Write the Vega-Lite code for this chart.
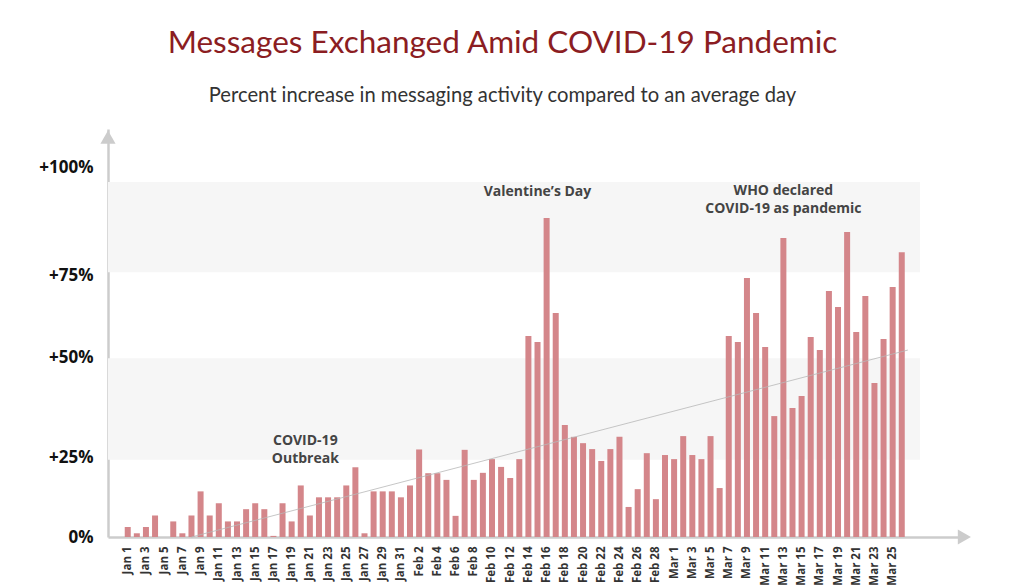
{
  "$schema": "https://vega.github.io/schema/vega-lite/v6.json",
  "width": 857,
  "height": 408,
  "autosize": {"type": "none"},
  "padding": {"left": 108, "top": 129, "right": 59, "bottom": 51},
  "background": "white",
  "config": {"view": {"stroke": null}, "font": "Open Sans"},
  "title": {
    "text": "Messages Exchanged Amid COVID-19 Pandemic",
    "subtitle": "Percent increase in messaging activity compared to an average day",
    "font": "Lato", "fontSize": 31.5, "fontWeight": "normal", "color": "#8b1d22",
    "subtitleFont": "Lato", "subtitleFontSize": 20.2, "subtitleColor": "#333333",
    "subtitlePadding": 26, "anchor": "middle", "dx": -34, "offset": 23
  },
  "datasets": {
    "bands": [
      {"d": "2019-12-29T20:00:00Z", "d2": "2020-03-28T00:00:00Z", "v": 71.4, "v2": 95.7},
      {"d": "2019-12-29T20:00:00Z", "d2": "2020-03-28T00:00:00Z", "v": 20.8, "v2": 48.2}
    ],
    "arrows": [
      {"d": "2019-12-29T20:00:00Z", "v": 107.8, "shape": "triangle-up"},
      {"d": "2020-04-01T21:00:00Z", "v": 0, "shape": "triangle-right"}
    ],
    "bars": [
      {"d": "2020-01-01", "v": 2.7}, {"d": "2020-01-02", "v": 1.0}, {"d": "2020-01-03", "v": 2.7}, {"d": "2020-01-04", "v": 5.8},
      {"d": "2020-01-05", "v": 0}, {"d": "2020-01-06", "v": 4.2}, {"d": "2020-01-07", "v": 1.0}, {"d": "2020-01-08", "v": 5.8},
      {"d": "2020-01-09", "v": 12.3}, {"d": "2020-01-10", "v": 5.8}, {"d": "2020-01-11", "v": 9.1}, {"d": "2020-01-12", "v": 4.2},
      {"d": "2020-01-13", "v": 4.2}, {"d": "2020-01-14", "v": 7.5}, {"d": "2020-01-15", "v": 9.1}, {"d": "2020-01-16", "v": 7.5},
      {"d": "2020-01-17", "v": 0.3}, {"d": "2020-01-18", "v": 9.1}, {"d": "2020-01-19", "v": 4.2}, {"d": "2020-01-20", "v": 13.9},
      {"d": "2020-01-21", "v": 5.8}, {"d": "2020-01-22", "v": 10.7}, {"d": "2020-01-23", "v": 10.7}, {"d": "2020-01-24", "v": 10.7},
      {"d": "2020-01-25", "v": 13.9}, {"d": "2020-01-26", "v": 18.8}, {"d": "2020-01-27", "v": 1.0}, {"d": "2020-01-28", "v": 12.3},
      {"d": "2020-01-29", "v": 12.3}, {"d": "2020-01-30", "v": 12.3}, {"d": "2020-01-31", "v": 10.7},
      {"d": "2020-02-01", "v": 13.9}, {"d": "2020-02-02", "v": 23.6}, {"d": "2020-02-03", "v": 17.2}, {"d": "2020-02-04", "v": 17.2},
      {"d": "2020-02-05", "v": 15.4}, {"d": "2020-02-06", "v": 5.7}, {"d": "2020-02-07", "v": 23.5}, {"d": "2020-02-08", "v": 15.4},
      {"d": "2020-02-09", "v": 17.3}, {"d": "2020-02-10", "v": 21.0}, {"d": "2020-02-11", "v": 18.9}, {"d": "2020-02-12", "v": 15.9},
      {"d": "2020-02-13", "v": 21.0}, {"d": "2020-02-14", "v": 54.2}, {"d": "2020-02-15", "v": 52.6}, {"d": "2020-02-16", "v": 86.0},
      {"d": "2020-02-17", "v": 60.4}, {"d": "2020-02-18", "v": 30.2}, {"d": "2020-02-19", "v": 27.0}, {"d": "2020-02-20", "v": 25.3},
      {"d": "2020-02-21", "v": 23.7}, {"d": "2020-02-22", "v": 20.5}, {"d": "2020-02-23", "v": 23.7}, {"d": "2020-02-24", "v": 27.0},
      {"d": "2020-02-25", "v": 8.1}, {"d": "2020-02-26", "v": 12.9}, {"d": "2020-02-27", "v": 22.6}, {"d": "2020-02-28", "v": 10.2},
      {"d": "2020-02-29", "v": 22.1},
      {"d": "2020-03-01", "v": 21.0}, {"d": "2020-03-02", "v": 27.2}, {"d": "2020-03-03", "v": 22.1}, {"d": "2020-03-04", "v": 21.0},
      {"d": "2020-03-05", "v": 27.2}, {"d": "2020-03-06", "v": 13.2}, {"d": "2020-03-07", "v": 54.2}, {"d": "2020-03-08", "v": 52.6},
      {"d": "2020-03-09", "v": 69.8}, {"d": "2020-03-10", "v": 60.4}, {"d": "2020-03-11", "v": 51.2}, {"d": "2020-03-12", "v": 32.6},
      {"d": "2020-03-13", "v": 80.6}, {"d": "2020-03-14", "v": 34.8}, {"d": "2020-03-15", "v": 38.0}, {"d": "2020-03-16", "v": 53.9},
      {"d": "2020-03-17", "v": 50.4}, {"d": "2020-03-18", "v": 66.3}, {"d": "2020-03-19", "v": 62.0}, {"d": "2020-03-20", "v": 82.2},
      {"d": "2020-03-21", "v": 55.3}, {"d": "2020-03-22", "v": 65.0}, {"d": "2020-03-23", "v": 41.5}, {"d": "2020-03-24", "v": 53.4},
      {"d": "2020-03-25", "v": 67.4}, {"d": "2020-03-26", "v": 76.8}
    ],
    "trend": [
      {"d": "2020-01-08", "v": 0},
      {"d": "2020-03-26T16:00:00Z", "v": 50.4}
    ],
    "notes": [
      {"d": "2020-01-20T12:00:00Z", "v": 25.9, "t": "COVID-19"},
      {"d": "2020-01-20T12:00:00Z", "v": 21.0, "t": "Outbreak"},
      {"d": "2020-02-15", "v": 93.0, "t": "Valentine’s Day"},
      {"d": "2020-03-13", "v": 93.3, "t": "WHO declared"},
      {"d": "2020-03-13", "v": 88.4, "t": "COVID-19 as pandemic"}
    ]
  },
  "encoding": {
    "x": {
      "field": "d", "type": "temporal",
      "scale": {
        "type": "utc", "nice": false, "padding": 0,
        "domain": [
          {"year": 2019, "month": 12, "date": 29, "hours": 20, "utc": true},
          {"year": 2020, "month": 4, "date": 1, "hours": 22, "minutes": 40, "utc": true}
        ]
      },
      "axis": {
        "title": null, "labelAngle": -90, "ticks": false, "grid": false,
        "domainColor": "#cccccc", "domainWidth": 2.5,
        "format": "%b %-d",
        "labelFont": "Open Sans", "labelFontWeight": "bold", "labelFontSize": 11.5,
        "labelColor": "#333333", "labelPadding": 9, "labelOverlap": false, "labelFlush": false,
        "values": [
          {"year": 2020, "month": 1, "date": 1, "utc": true}, {"year": 2020, "month": 1, "date": 3, "utc": true},
          {"year": 2020, "month": 1, "date": 5, "utc": true}, {"year": 2020, "month": 1, "date": 7, "utc": true},
          {"year": 2020, "month": 1, "date": 9, "utc": true}, {"year": 2020, "month": 1, "date": 11, "utc": true},
          {"year": 2020, "month": 1, "date": 13, "utc": true}, {"year": 2020, "month": 1, "date": 15, "utc": true},
          {"year": 2020, "month": 1, "date": 17, "utc": true}, {"year": 2020, "month": 1, "date": 19, "utc": true},
          {"year": 2020, "month": 1, "date": 21, "utc": true}, {"year": 2020, "month": 1, "date": 23, "utc": true},
          {"year": 2020, "month": 1, "date": 25, "utc": true}, {"year": 2020, "month": 1, "date": 27, "utc": true},
          {"year": 2020, "month": 1, "date": 29, "utc": true}, {"year": 2020, "month": 1, "date": 31, "utc": true},
          {"year": 2020, "month": 2, "date": 2, "utc": true}, {"year": 2020, "month": 2, "date": 4, "utc": true},
          {"year": 2020, "month": 2, "date": 6, "utc": true}, {"year": 2020, "month": 2, "date": 8, "utc": true},
          {"year": 2020, "month": 2, "date": 10, "utc": true}, {"year": 2020, "month": 2, "date": 12, "utc": true},
          {"year": 2020, "month": 2, "date": 14, "utc": true}, {"year": 2020, "month": 2, "date": 16, "utc": true},
          {"year": 2020, "month": 2, "date": 18, "utc": true}, {"year": 2020, "month": 2, "date": 20, "utc": true},
          {"year": 2020, "month": 2, "date": 22, "utc": true}, {"year": 2020, "month": 2, "date": 24, "utc": true},
          {"year": 2020, "month": 2, "date": 26, "utc": true}, {"year": 2020, "month": 2, "date": 28, "utc": true},
          {"year": 2020, "month": 3, "date": 1, "utc": true}, {"year": 2020, "month": 3, "date": 3, "utc": true},
          {"year": 2020, "month": 3, "date": 5, "utc": true}, {"year": 2020, "month": 3, "date": 7, "utc": true},
          {"year": 2020, "month": 3, "date": 9, "utc": true}, {"year": 2020, "month": 3, "date": 11, "utc": true},
          {"year": 2020, "month": 3, "date": 13, "utc": true}, {"year": 2020, "month": 3, "date": 15, "utc": true},
          {"year": 2020, "month": 3, "date": 17, "utc": true}, {"year": 2020, "month": 3, "date": 19, "utc": true},
          {"year": 2020, "month": 3, "date": 21, "utc": true}, {"year": 2020, "month": 3, "date": 23, "utc": true},
          {"year": 2020, "month": 3, "date": 25, "utc": true}
        ]
      }
    },
    "y": {
      "field": "v", "type": "quantitative",
      "scale": {"domain": [0, 110], "nice": false},
      "axis": {
        "title": null, "ticks": false, "grid": false,
        "domainColor": "#cccccc", "domainWidth": 2.5,
        "values": [0, 21.3, 48.3, 70.6, 99.5],
        "labelExpr": "datum.value == 0 ? '0%' : datum.value < 30 ? '+25%' : datum.value < 60 ? '+50%' : datum.value < 85 ? '+75%' : '+100%'",
        "labelFont": "Open Sans", "labelFontWeight": "bold", "labelFontSize": 17,
        "labelColor": "#111111", "labelPadding": 15
      }
    }
  },
  "layer": [
    {
      "data": {"name": "bands"},
      "mark": {"type": "rect", "color": "#f6f6f6"},
      "encoding": {"x2": {"field": "d2"}, "y2": {"field": "v2"}}
    },
    {
      "data": {"name": "bars"},
      "mark": {"type": "bar", "color": "#d4868a", "width": 6}
    },
    {
      "data": {"name": "trend"},
      "mark": {"type": "line", "color": "#b8b8b8", "strokeWidth": 1, "opacity": 0.8},
      "encoding": {}
    },
    {
      "data": {"name": "arrows"},
      "mark": {"type": "point", "filled": true, "color": "#cccccc", "opacity": 1, "size": 230},
      "encoding": {"shape": {"field": "shape", "type": "nominal", "scale": null}}
    },
    {
      "data": {"name": "notes"},
      "mark": {"type": "text", "font": "Open Sans", "fontWeight": "bold", "fontSize": 14, "color": "#444444", "baseline": "middle", "align": "center"},
      "encoding": {"text": {"field": "t"}}
    }
  ]
}
